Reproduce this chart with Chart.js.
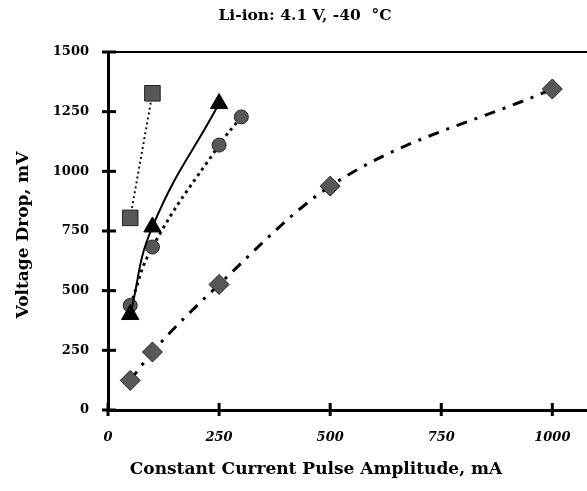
<!DOCTYPE html>
<html>
<head>
<meta charset="utf-8">
<title>Li-ion: 4.1 V, -40 °C</title>
<script src="https://cdn.jsdelivr.net/npm/chart.js@4.4.1/dist/chart.umd.min.js"></script>
<style>
  body { margin: 0; background: #fff; }
  #wrap { width: 587px; height: 491px; }
</style>
</head>
<body>
<div id="wrap"><canvas id="pulseChart" width="587" height="491"></canvas></div>
<script>
// pulse amplitude (mA) and voltage drop (mV) per series
const squareX = [50, 100];
const squareY = [805, 1327];
const triangleX = [50, 100, 250];
const triangleY = [400, 767, 1284];
const circleX = [50, 100, 250, 300];
const circleY = [438, 683, 1110, 1228];
const diamondX = [50, 100, 250, 500, 1000];
const diamondY = [124, 243, 526, 938, 1345];

const xTicks = [0, 250, 500, 750, 1000];
const yTicks = [0, 250, 500, 750, 1000, 1250, 1500];

const chartTitle = 'Li-ion: 4.1 V, -40  °C';
const xTitle = 'Constant Current Pulse Amplitude, mA';
const yTitle = 'Voltage Drop, mV';

const serif = '"DejaVu Serif", "Liberation Serif", serif';

function pairs(xs, ys) {
    return xs.map((x, i) => ({ x: x, y: ys[i] }));
}

// tick marks that cross the axis lines, plus the top frame and titles
const framePlugin = {
    id: 'frame',
    afterDraw(chart) {
        const ctx = chart.ctx;
        const area = chart.chartArea;
        const xs = chart.scales.x;
        const ys = chart.scales.y;
        ctx.save();
        ctx.strokeStyle = '#000';
        ctx.lineWidth = 2;
        ctx.beginPath();
        ctx.moveTo(area.left, area.top);
        ctx.lineTo(area.right, area.top);
        ctx.stroke();

        ctx.lineWidth = 3;
        yTicks.forEach(v => {
            const py = ys.getPixelForValue(v);
            ctx.beginPath();
            ctx.moveTo(area.left - 6, py);
            ctx.lineTo(area.left + 8, py);
            ctx.stroke();
        });
        xTicks.forEach(v => {
            const px = xs.getPixelForValue(v);
            ctx.beginPath();
            ctx.moveTo(px, area.bottom - 7);
            ctx.lineTo(px, area.bottom + 6);
            ctx.stroke();
        });

        ctx.fillStyle = '#000';
        ctx.textAlign = 'center';
        ctx.textBaseline = 'middle';
        ctx.font = 'bold 15.5px ' + serif;
        ctx.fillText(chartTitle, 305, 16);
        ctx.font = 'bold 17px ' + serif;
        ctx.fillText(xTitle, 316, 470);
        ctx.translate(24, 235);
        ctx.rotate(-Math.PI / 2);
        ctx.fillText(yTitle, 0, 0);
        ctx.restore();
    }
};

const markerFill = '#575757';
const markerEdge = '#222';

const ctx = document.getElementById('pulseChart').getContext('2d');
const chart = new Chart(ctx, {
    type: 'line',
    data: {
        datasets: [
            {
                label: 'square',
                data: pairs(squareX, squareY),
                borderColor: '#111',
                borderWidth: 2,
                borderDash: [2, 3],
                pointStyle: 'rect',
                pointRadius: 11,
                pointBackgroundColor: markerFill,
                pointBorderColor: markerEdge,
                pointBorderWidth: 1
            },
            {
                label: 'triangle',
                data: pairs(triangleX, triangleY),
                borderColor: '#000',
                borderWidth: 2,
                tension: 0.45,
                pointStyle: 'triangle',
                pointRadius: 10,
                pointBackgroundColor: '#000',
                pointBorderColor: '#000',
                pointBorderWidth: 1
            },
            {
                label: 'circle',
                data: pairs(circleX, circleY),
                borderColor: '#111',
                borderWidth: 3,
                borderDash: [3, 4],
                tension: 0.45,
                pointStyle: 'circle',
                pointRadius: 7,
                pointBackgroundColor: markerFill,
                pointBorderColor: markerEdge,
                pointBorderWidth: 1
            },
            {
                label: 'diamond',
                data: pairs(diamondX, diamondY),
                borderColor: '#000',
                borderWidth: 3,
                borderDash: [11, 8, 3, 8],
                cubicInterpolationMode: 'monotone',
                pointStyle: 'rectRot',
                pointRadius: 10,
                pointBackgroundColor: markerFill,
                pointBorderColor: markerEdge,
                pointBorderWidth: 1
            }
        ]
    },
    options: {
        responsive: false,
        animation: false,
        layout: { autoPadding: false, padding: { top: 52, right: 0, left: 0, bottom: 0 } },
        plugins: {
            legend: { display: false },
            tooltip: { enabled: false }
        },
        scales: {
            x: {
                type: 'linear',
                min: 0,
                max: 1078,
                afterBuildTicks: s => { s.ticks = xTicks.map(v => ({ value: v })); },
                afterFit: s => { s.height = 81; s.paddingLeft = 0; s.paddingRight = 0; },
                grid: { display: false },
                border: { display: true, color: '#000', width: 3 },
                ticks: {
                    color: '#000',
                    padding: 12,
                    callback: v => String(v),
                    font: { family: serif, size: 13, weight: 'bold', style: 'italic' }
                }
            },
            y: {
                type: 'linear',
                min: 0,
                max: 1500,
                afterBuildTicks: s => { s.ticks = yTicks.map(v => ({ value: v })); },
                afterFit: s => { s.width = 108; s.paddingTop = 0; s.paddingBottom = 0; },
                grid: { display: false },
                border: { display: true, color: '#000', width: 3 },
                ticks: {
                    color: '#000',
                    padding: 11,
                    callback: v => String(v),
                    font: { family: serif, size: 13, weight: 'bold' }
                }
            }
        }
    },
    plugins: [framePlugin]
});
</script>
</body>
</html>
